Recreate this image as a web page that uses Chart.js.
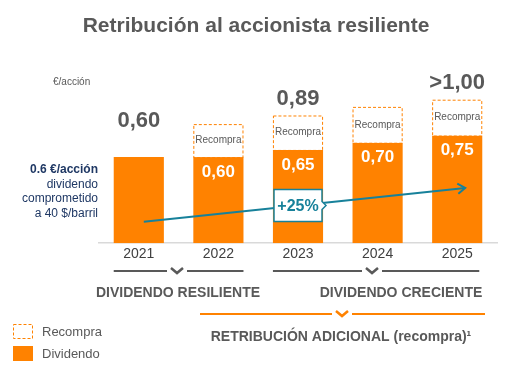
<!DOCTYPE html>
<html lang="es">
<head>
    <meta charset="UTF-8">
    <title>Retribución al accionista resiliente</title>
    <style>
        html, body { margin: 0; padding: 0; background: #fff; }
        #chart { display: block; }
    </style>
</head>
<body>
    <canvas id="chart" width="513" height="368"></canvas>
    <script src="https://cdn.jsdelivr.net/npm/chart.js@4/dist/chart.umd.min.js"></script>
    <script>
        // data
        var years = ["2021", "2022", "2023", "2024", "2025"];
        var dividendo = [0.60, 0.60, 0.65, 0.70, 0.75];
        var recompra = [null, 0.23, 0.24, 0.25, 0.25];
        var totalLabels = ["0,60", "", "0,89", "", ">1,00"];
        var growthLabel = "+25%";
        var growthFrom = 0.15, growthTo = 0.385;

        var ORANGE = "#FF8200";
        var GREY = "#595959";
        var TEAL = "#17819A";
        var NAVY = "#1F3864";
        var FONT = "'Liberation Sans', Arial, sans-serif";

        function fmt(v) {
            return v.toFixed(2).replace(".", ",");
        }

        function chevron(ctx, cx, y, color) {
            ctx.strokeStyle = color;
            ctx.lineWidth = 2.5;
            ctx.beginPath();
            ctx.moveTo(cx - 6, y - 3);
            ctx.lineTo(cx, y + 2);
            ctx.lineTo(cx + 6, y - 3);
            ctx.stroke();
        }

        function bracket(ctx, x1, x2, cx, y, color) {
            ctx.strokeStyle = color;
            ctx.lineWidth = 2;
            ctx.beginPath();
            ctx.moveTo(x1, y);
            ctx.lineTo(cx - 10, y);
            ctx.moveTo(cx + 10, y);
            ctx.lineTo(x2, y);
            ctx.stroke();
            chevron(ctx, cx, y, color);
        }

        var decorations = {
            id: "decorations",
            afterDatasetsDraw: function (chart) {
                var ctx = chart.ctx;
                var y = chart.scales.y;
                var x = chart.scales.x;
                var divBars = chart.getDatasetMeta(0).data;
                var recBars = chart.getDatasetMeta(1).data;
                ctx.save();

                // title
                ctx.fillStyle = GREY;
                ctx.textAlign = "center";
                ctx.textBaseline = "middle";
                ctx.font = "bold 21px " + FONT;
                ctx.fillText("Retribución al accionista resiliente", 256, 26);

                // unit
                ctx.font = "10px " + FONT;
                ctx.textAlign = "left";
                ctx.fillText("€/acción", 53, 82);

                // left note
                ctx.textAlign = "right";
                ctx.fillStyle = NAVY;
                ctx.font = "bold 12px " + FONT;
                ctx.fillText("0.6 €/acción", 98, 170);
                ctx.font = "12px " + FONT;
                ctx.fillText("dividendo", 98, 185);
                ctx.fillText("comprometido", 98, 199);
                ctx.fillText("a 40 $/barril", 98, 214);

                // recompra boxes (dashed)
                ctx.textAlign = "center";
                for (var i = 0; i < recBars.length; i++) {
                    if (recompra[i] == null) continue;
                    var b = recBars[i];
                    var l = b.x - b.width / 2, r = b.x + b.width / 2;
                    ctx.fillStyle = "#fff";
                    ctx.fillRect(l, b.y, r - l, b.base - b.y);
                    ctx.setLineDash([3, 2]);
                    ctx.strokeStyle = ORANGE;
                    ctx.lineWidth = 1;
                    ctx.strokeRect(l + 0.5, b.y + 0.5, r - l - 1, b.base - b.y);
                    ctx.setLineDash([]);
                    ctx.fillStyle = GREY;
                    ctx.font = "10px " + FONT;
                    ctx.fillText(chart.data.datasets[1].label, b.x, (b.y + b.base) / 2);
                }

                // dividend values inside bars
                ctx.fillStyle = "#fff";
                ctx.font = "bold 17px " + FONT;
                for (var i = 0; i < divBars.length; i++) {
                    if (recompra[i] == null) continue;
                    ctx.fillText(fmt(dividendo[i]), divBars[i].x, divBars[i].y + 15);
                }

                // totals above bars
                ctx.fillStyle = GREY;
                ctx.font = "bold 22px " + FONT;
                for (var i = 0; i < totalLabels.length; i++) {
                    if (!totalLabels[i]) continue;
                    var top = recompra[i] == null ? divBars[i].y - 36 : recBars[i].y - 17;
                    ctx.fillText(totalLabels[i], divBars[i].x, top);
                }

                // growth arrow
                var x1 = x.getPixelForValue(0) + 5, x2 = x.getPixelForValue(4) + 8;
                var y1 = y.getPixelForValue(growthFrom), y2 = y.getPixelForValue(growthTo);
                ctx.strokeStyle = TEAL;
                ctx.lineWidth = 2;
                ctx.beginPath();
                ctx.moveTo(x1, y1);
                ctx.lineTo(x2, y2);
                ctx.stroke();
                var ang = Math.atan2(y2 - y1, x2 - x1);
                ctx.beginPath();
                ctx.moveTo(x2 - 9 * Math.cos(ang - 0.6), y2 - 9 * Math.sin(ang - 0.6));
                ctx.lineTo(x2, y2);
                ctx.lineTo(x2 - 9 * Math.cos(ang + 0.6), y2 - 9 * Math.sin(ang + 0.6));
                ctx.stroke();

                // +25% callout
                var bx = x.getPixelForValue(2);
                var by = y1 + (y2 - y1) * (bx - x1) / (x2 - x1);
                var bw = 48, bh = 32;
                ctx.fillStyle = "#fff";
                ctx.strokeStyle = TEAL;
                ctx.lineWidth = 1.5;
                ctx.beginPath();
                ctx.moveTo(bx - bw / 2, by - bh / 2);
                ctx.lineTo(bx + bw / 2, by - bh / 2);
                ctx.lineTo(bx + bw / 2, by - 4);
                ctx.lineTo(bx + bw / 2 + 4, by);
                ctx.lineTo(bx + bw / 2, by + 4);
                ctx.lineTo(bx + bw / 2, by + bh / 2);
                ctx.lineTo(bx - bw / 2, by + bh / 2);
                ctx.closePath();
                ctx.fill();
                ctx.stroke();
                ctx.fillStyle = TEAL;
                ctx.font = "bold 16px " + FONT;
                ctx.fillText(growthLabel, bx, by + 1);

                // brackets under the axis
                var edgeL = function (i) { return divBars[i].x - divBars[i].width / 2; };
                var edgeR = function (i) { return divBars[i].x + divBars[i].width / 2; };
                bracket(ctx, edgeL(0), edgeR(1), 177, 271, GREY);
                bracket(ctx, edgeL(2), edgeR(4) - 3, 372, 271, GREY);
                ctx.fillStyle = GREY;
                ctx.font = "bold 14px " + FONT;
                ctx.fillText("DIVIDENDO RESILIENTE", 178, 293);
                ctx.fillText("DIVIDENDO CRECIENTE", 401, 293);

                bracket(ctx, 200, 485, 342, 314, ORANGE);
                ctx.fillStyle = GREY;
                ctx.fillText("RETRIBUCIÓN ADICIONAL (recompra)¹", 341, 337);

                // legend
                ctx.setLineDash([3, 2]);
                ctx.strokeStyle = ORANGE;
                ctx.lineWidth = 1;
                ctx.strokeRect(13.5, 324.5, 19, 14);
                ctx.setLineDash([]);
                ctx.fillStyle = ORANGE;
                ctx.fillRect(13, 346, 20, 15);
                ctx.fillStyle = GREY;
                ctx.textAlign = "left";
                ctx.font = "13px " + FONT;
                ctx.fillText(chart.data.datasets[1].label, 42, 332);
                ctx.fillText(chart.data.datasets[0].label, 42, 354);

                ctx.restore();
            }
        };

        new Chart(document.getElementById("chart"), {
            type: "bar",
            data: {
                labels: years,
                datasets: [
                    {
                        label: "Dividendo",
                        data: dividendo,
                        backgroundColor: ORANGE,
                        borderWidth: 0
                    },
                    {
                        label: "Recompra",
                        data: recompra,
                        backgroundColor: "rgba(0,0,0,0)",
                        borderWidth: 0
                    }
                ]
            },
            options: {
                responsive: false,
                animation: false,
                events: [],
                layout: { padding: { left: 99, right: 16, top: 71, bottom: 102 } },
                datasets: { bar: { categoryPercentage: 1, barPercentage: 0.63 } },
                plugins: { legend: { display: false }, tooltip: { enabled: false } },
                scales: {
                    x: {
                        stacked: true,
                        grid: { display: false, drawTicks: false },
                        border: { color: "#D9D9D9", width: 1.5 },
                        ticks: { color: "#404040", padding: 3, font: { family: FONT, size: 14 } }
                    },
                    y: {
                        stacked: true,
                        display: false,
                        min: 0,
                        max: 1.2
                    }
                }
            },
            plugins: [decorations]
        });
    </script>
</body>
</html>
